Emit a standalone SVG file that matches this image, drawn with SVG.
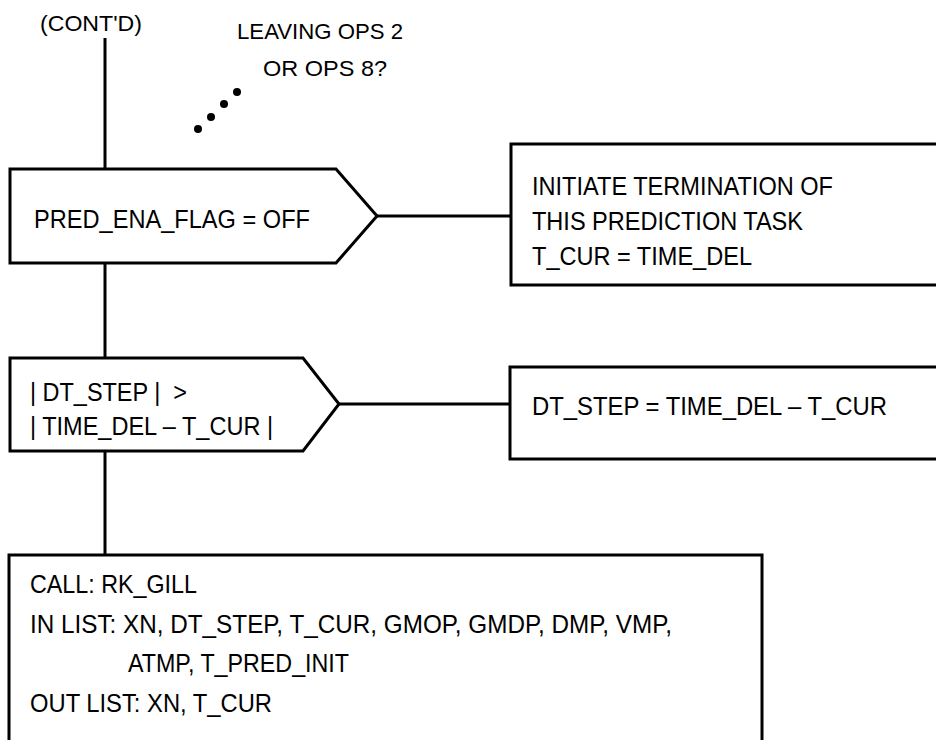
<svg xmlns="http://www.w3.org/2000/svg" width="936" height="740" viewBox="0 0 936 740">
<style>
.ln{stroke:#000;stroke-width:3;fill:none}
.sh{stroke:#000;stroke-width:3;fill:#fff}
.t{font-family:"Liberation Sans",Arial,sans-serif;font-size:25px;fill:#000;white-space:pre}
.s{font-size:22px}
</style>
<rect width="936" height="740" fill="#fff"/>
<g id="connectors">
<line class="ln" x1="105" y1="38" x2="105" y2="169"/>
<line class="ln" x1="105" y1="263" x2="105" y2="358"/>
<line class="ln" x1="105" y1="451" x2="105" y2="555"/>
<line class="ln" x1="377" y1="216" x2="511" y2="216"/>
<line class="ln" x1="339" y1="404" x2="510" y2="404"/>
</g>
<g id="label-contd"><text class="t s" x="40" y="31" textLength="102" lengthAdjust="spacingAndGlyphs">(CONT'D)</text></g>
<g id="label-leaving">
<text class="t s" x="237" y="39" textLength="166" lengthAdjust="spacingAndGlyphs">LEAVING OPS 2</text>
<text class="t s" x="263" y="76" textLength="124" lengthAdjust="spacingAndGlyphs">OR OPS 8?</text>
</g>
<g id="dots" fill="#000">
<circle cx="198" cy="129" r="4"/>
<circle cx="211" cy="117" r="4"/>
<circle cx="224" cy="104" r="4"/>
<circle cx="237" cy="92" r="4"/>
</g>
<g id="dec1">
<polygon class="sh" points="10,169 336,169 377,216 336,263 10,263"/>
<text class="t" x="34" y="228" textLength="276" lengthAdjust="spacingAndGlyphs">PRED_ENA_FLAG = OFF</text>
</g>
<g id="box1">
<rect class="sh" x="511" y="144" width="440" height="141"/>
<text class="t" x="532" y="195" textLength="301" lengthAdjust="spacingAndGlyphs">INITIATE TERMINATION OF</text>
<text class="t" x="532" y="230" textLength="271" lengthAdjust="spacingAndGlyphs">THIS PREDICTION TASK</text>
<text class="t" x="532" y="265" textLength="220" lengthAdjust="spacingAndGlyphs">T_CUR = TIME_DEL</text>
</g>
<g id="dec2">
<polygon class="sh" points="10,358 303,358 339,404 303,451 10,451"/>
<text class="t" x="30" y="401" textLength="157" lengthAdjust="spacingAndGlyphs">| DT_STEP |  &gt;</text>
<text class="t" x="30" y="435" textLength="243" lengthAdjust="spacingAndGlyphs">| TIME_DEL – T_CUR |</text>
</g>
<g id="box2">
<rect class="sh" x="510" y="367" width="440" height="92"/>
<text class="t" x="532" y="415" textLength="355" lengthAdjust="spacingAndGlyphs">DT_STEP = TIME_DEL – T_CUR</text>
</g>
<g id="box3">
<rect class="sh" x="9" y="555" width="753" height="200"/>
<text class="t" x="30" y="593" textLength="167" lengthAdjust="spacingAndGlyphs">CALL: RK_GILL</text>
<text class="t" x="30" y="633" textLength="642" lengthAdjust="spacingAndGlyphs">IN LIST: XN, DT_STEP, T_CUR, GMOP, GMDP, DMP, VMP,</text>
<text class="t" x="128" y="672" textLength="221" lengthAdjust="spacingAndGlyphs">ATMP, T_PRED_INIT</text>
<text class="t" x="30" y="712" textLength="242" lengthAdjust="spacingAndGlyphs">OUT LIST: XN, T_CUR</text>
</g>
</svg>
